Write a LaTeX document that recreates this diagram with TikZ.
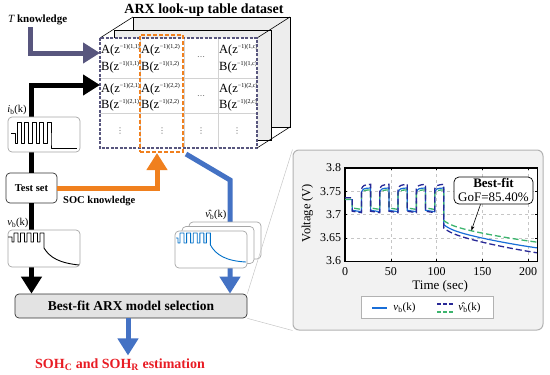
\documentclass[tikz,border=0pt]{standalone}
\usepackage{fontspec}
\setmainfont{Liberation Serif}
\newfontfamily\dotsfont{DejaVu Sans}
\usetikzlibrary{arrows.meta,positioning,calc}

\definecolor{knowpurple}{RGB}{88,86,126}
\definecolor{socorange}{RGB}{240,128,30}
\definecolor{flowblue}{RGB}{68,114,196}
\definecolor{waveblue}{RGB}{0,112,200}
\definecolor{measblue}{RGB}{25,110,215}
\definecolor{estnavy}{RGB}{40,40,150}
\definecolor{estgreen}{RGB}{60,180,110}
\definecolor{sohred}{RGB}{232,28,36}

\newcommand\tsup[1]{\raisebox{0.8ex}{\fontsize{6}{6}\selectfont #1}}
\newcommand\armat[2]{#1(z\tsup{−1)}\tsup{(#2)}}

\begin{document}
\begin{tikzpicture}[
  x=1pt,y=-1pt,
  flow/.style={line width=5pt,-{Triangle[width=20pt,length=17pt]}},
  box/.style={draw=gray!70,fill=white,rounded corners=4pt,line width=0.7pt,inner sep=0pt},
  lbl/.style={font=\fontsize{10.5}{12}\selectfont,inner sep=0.5pt},
  cell/.style={anchor=west,inner sep=0pt,font=\fontsize{12.5}{14}\selectfont},
  celldots/.style={inner sep=0pt,text=gray!80!black,font=\dotsfont\fontsize{8}{9}\selectfont},
  gridln/.style={gray!45,dashed,line width=0.4pt},
  wave/.style={line width=0.9pt,line join=round},
  meascurve/.style={measblue,line width=1.2pt},
  navycurve/.style={estnavy,line width=1.3pt,dash pattern=on 6pt off 3pt},
  greencurve/.style={estgreen,line width=1.3pt,dash pattern=on 6pt off 3pt}
]
\useasboundingbox (0,0) rectangle (550,375);

% look-up table cube
\draw[fill=gray!14,line width=0.6pt] (133,17) rectangle (290,127);
\draw[fill=gray!14,line width=0.6pt] (114,30) rectangle (271,140);
\draw[line width=0.6pt] (100,38) -- (133,17) (257,38) -- (290,17) (257,148) -- (290,127);
\node[fill=white,minimum width=157pt,minimum height=110pt,inner sep=0pt] (tab) at (178.5,93) {};
\foreach \gx in {140,184,218} \draw[gray!35,line width=0.6pt] (\gx,38) -- (\gx,148);
\foreach \gy in {78,113} \draw[gray!35,line width=0.6pt] (100,\gy) -- (257,\gy);
\foreach \r/\ya/\yb in {1/50/67,2/89/105}{
  \foreach \c/\cx in {1/101,2/141,c/219}{
    \node[cell] (a\r\c) at (\cx,\ya) {\armat{A}{\r,\c}};
    \node[cell] (b\r\c) at (\cx,\yb) {\armat{B}{\r,\c}};
  }
  \node[celldots] (hd\r) at (201,{(\ya+\yb)/2}) {⋯};
}
\foreach \vx [count=\i] in {120,162,201,237} \node[celldots] (vd\i) at (\vx,131) {⋮};
\draw[knowpurple,line width=1.5pt,dash pattern=on 3pt off 1.5pt] (tab.north west) rectangle (tab.south east);
\node[draw=socorange,line width=2pt,dash pattern=on 4pt off 2pt,minimum width=43pt,minimum height=117pt,inner sep=0pt] (colsel) at (161.5,93.5) {};
\node[font=\bfseries\fontsize{14}{16}\selectfont] (title) at (204,10) {ARX look-up table dataset};

% inputs
\node[anchor=west,inner sep=0pt,font=\bfseries\fontsize{11}{13}\selectfont] (tknow) at (8,20) {{\mdseries\itshape T}\ knowledge};
\coordinate (tdown) at (30,27);
\coordinate (row1) at (100,53);
\coordinate (row2) at (100,85);
\draw[flow,knowpurple] (tdown) |- (row1);

\node[box,draw=gray!40!black,minimum width=51pt,minimum height=30pt,font=\bfseries\fontsize{10.5}{12}\selectfont] (test) at (31.5,188) {Test set};
\node[box,fill=gray!22,draw=gray!40!black,minimum width=232pt,minimum height=24pt,font=\bfseries\fontsize{13.5}{15}\selectfont] (best) at (131,306) {Best-fit ARX model selection};
\node[font=\bfseries\fontsize{14}{16}\selectfont,text=sohred] (soh) at (120,365) {SOH\textsubscript{C} and SOH\textsubscript{R} estimation};
\node[anchor=north west,inner sep=0pt,font=\bfseries\fontsize{10.5}{12}\selectfont] (socl) at (63,196) {SOC knowledge};

\draw[flow] (test.north) |- (row2);
\draw[flow] (test.south) -- (test.south |- best.north);
\draw[flow,socorange] (test.east) -| ([xshift=-4.5pt]colsel.south);
\coordinate (vbend) at (230,180);
\draw[flow,flowblue] ([xshift=2pt,yshift=-1pt]colsel.south east) -- (vbend) -- (vbend |- best.north);
\draw[flow,flowblue] ([xshift=-3pt]best.south) -- ([xshift=-3pt]best.south |- soh.north);

% signal boxes
\node[box,minimum width=72pt,minimum height=35pt] (ibox) at (44,134.5) {};
\node[lbl,above right=1pt and -1pt of ibox.north west] (iblbl) {\textit{i}\textsubscript{b}(k)};
\draw[wave] (11,133) -- (15,133) -- (15,143) \foreach \k in {0,...,4}{ -- ({17+7.5*\k},143) -- ({17+7.5*\k},122) -- ({21+7.5*\k},122) -- ({21+7.5*\k},143)} -- (51,148) -- (77,148);

\node[box,minimum width=72pt,minimum height=37pt] (vbox) at (44,248.5) {};
\node[lbl,above right=1pt and -1pt of vbox.north west] (vblbl) {\textit{v}\textsubscript{b}(k)};
\draw[wave] (8,237) -- (12,237) -- (12,242) \foreach \k in {0,...,4}{ -- ({14+6.5*\k},242) -- ({14+6.5*\k},233) -- ({18+6.5*\k},233) -- ({18+6.5*\k},242)} -- (44,248) .. controls (50,258) and (60,263) .. (79,265);

\foreach \i/\dx/\dy in {c/14/-9,b/7/-4.5,a/0/0}
  \node[box,minimum width=72pt,minimum height=37pt] (vhat\i) at ({211+\dx},{249.5+\dy}) {};
\node[lbl,above right=1pt and 16pt of vhatc.north west] (vhlbl) {\^{\textit{v}}\textsubscript{b}(k)};
\draw[wave,waveblue] (176,238) -- (178,238) -- (178,243) \foreach \k in {0,...,4}{ -- ({180+6.6*\k},243) -- ({180+6.6*\k},233) -- ({184+6.6*\k},233) -- ({184+6.6*\k},243)} -- (210.4,245) .. controls (216,255) and (226,261) .. (246,262);

% zoomed result panel
\node[draw=gray!60,fill=gray!10,rounded corners=6pt,line width=1pt,minimum width=250pt,minimum height=180pt,inner sep=0pt] (panel) at (418,240) {};
\draw[gray!45,line width=0.5pt] (best.north east) -- (panel.north west) (best.south east) -- (panel.south west);
\node[draw,fill=white,line width=0.6pt,minimum width=192pt,minimum height=93pt,inner sep=0pt] (ax) at (441,214.5) {};

\begin{scope}[shift={(345,1935)},x=0.915pt,y=465pt]
  \foreach \t in {50,100,150,200} \draw[gridln] (\t,3.6) -- (\t,3.8);
  \foreach \v in {3.65,3.7,3.75} \draw[gridln] (0,\v) -- (210,\v);
  \foreach \t in {0,50,100,150,200} \draw[line width=0.5pt] (\t,3.6) -- ++(0,0.005) (\t,3.8) -- ++(0,-0.005);
  \foreach \v in {3.6,3.65,3.7,3.75,3.8} \draw[line width=0.5pt] (0,\v) -- ++(2.5,0) (210,\v) -- ++(-2.5,0);
  \foreach \t [count=\i] in {0,50,100,150,200}
    \node[anchor=north,inner sep=1pt,font=\fontsize{12}{13}\selectfont] (xt\i) at (\t,3.589) {\t};
  \foreach \v [count=\i] in {3.6,3.65,3.7,3.75,3.8}
    \node[anchor=east,inner sep=1pt,font=\fontsize{12}{13}\selectfont] (yt\i) at (-3,\v) {\v};
  \node[font=\fontsize{13}{15}\selectfont] (xlab) at (104,3.545) {Time (sec)};
  \node[rotate=90,font=\fontsize{12.5}{14}\selectfont] (ylab) at (-41,3.703) {Voltage (V)};

  \draw[meascurve] (0,3.732) -- (8,3.732) \foreach \k in {0,...,4}{ -- ({8+20*\k},3.709) -- ({18+20*\k},3.706) -- ({18+20*\k},3.748) .. controls ({20+20*\k},3.756) .. ({28+20*\k},3.757)} -- (108,3.678) -- plot[domain=108:210,samples=50] (\x,{3.5852+0.0848*exp(-(\x-108)/150)+0.008*exp(-(\x-108)/8)});
  \draw[greencurve] (0,3.733) -- (8,3.733) \foreach \k in {0,...,4}{ -- ({8+20*\k},3.714) -- ({18+20*\k},3.711) -- ({18+20*\k},3.745) .. controls ({20+20*\k},3.752) .. ({28+20*\k},3.753)} -- (108,3.687) -- plot[domain=108:210,samples=50] (\x,{3.601+0.078*exp(-(\x-108)/150)+0.008*exp(-(\x-108)/8)});
  \draw[navycurve] (0,3.736) -- (8,3.736) \foreach \k in {0,...,4}{ -- ({8+20*\k},3.707) -- ({18+20*\k},3.704) -- ({18+20*\k},3.755) .. controls ({20+20*\k},3.763) .. ({28+20*\k},3.765)} -- (108,3.671) -- plot[domain=108:210,samples=50] (\x,{3.571+0.092*exp(-(\x-108)/150)+0.008*exp(-(\x-108)/8)});
  \coordinate (fitpt) at (138,3.665);
\end{scope}
\draw[line width=0.6pt] (ax.north west) rectangle (ax.south east);

\node[draw,fill=white,rounded corners=5pt,line width=0.7pt,minimum width=79pt,minimum height=27pt,inner sep=1pt,align=center,font=\fontsize{13}{14}\selectfont] (fitbox) at (493.5,190.5) {\textbf{Best-fit}\\GoF=85.40\%};
\draw[-{Stealth[length=5pt,width=3.5pt]},line width=0.6pt] ([xshift=-13pt]fitbox.south) -- (fitpt);

% legend
\node[draw=gray!60,fill=white,line width=0.6pt,minimum width=132pt,minimum height=22pt,inner sep=0pt] (leg) at (427,307) {};
\draw[meascurve] (372,308) -- (387,308);
\node[font=\fontsize{11}{12}\selectfont] (legv) at (404.5,308) {\textit{v}\textsubscript{b}(k)};
\draw[navycurve,dash pattern=on 4pt off 2pt] (437,304) -- (453,304);
\draw[greencurve,dash pattern=on 4pt off 2pt] (437,312) -- (453,312);
\node[font=\fontsize{11}{12}\selectfont] (legvh) at (469.5,308) {\^{\textit{v}}\textsubscript{b}(k)};
\end{tikzpicture}
\end{document}
